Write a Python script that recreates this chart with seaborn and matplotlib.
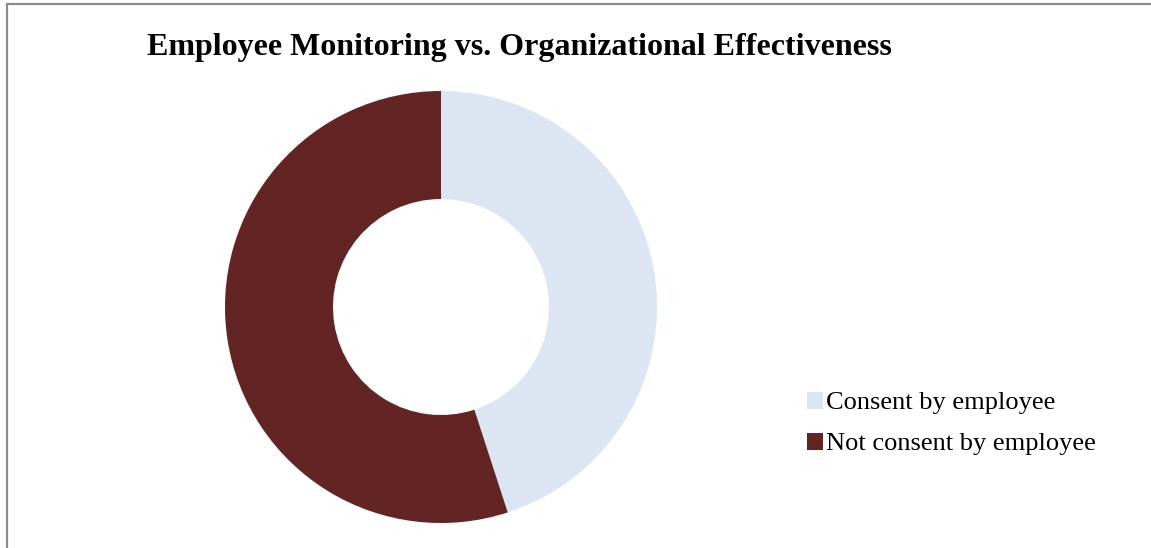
import matplotlib
matplotlib.use("Agg")
import matplotlib.pyplot as plt
import seaborn as sns
from matplotlib.lines import Line2D
from matplotlib.patches import Patch

sns.set_theme(style="white")
plt.rcParams["font.family"] = ["Liberation Serif", "DejaVu Serif"]

categories = ["Consent by employee", "Not consent by employee"]
shares = [45, 55]
colors = ["#DCE6F2", "#632523"]
title = "Employee Monitoring vs. Organizational Effectiveness"

W, H = 1151, 548
fig = plt.figure(figsize=(W / 100, H / 100), dpi=100)
fig.patch.set_facecolor("white")

# donut axes: centre (441, 307) px, outer radius 216 px
cx, cy, r = 441, 307, 216
ax = fig.add_axes([(cx - r) / W, (H - cy - r) / H, 2 * r / W, 2 * r / H])
wedges, _ = ax.pie(shares, colors=colors, startangle=90, counterclock=False,
                   radius=1.0, wedgeprops=dict(width=0.5, edgecolor="none"))
ax.set_xlim(-1, 1)
ax.set_ylim(-1, 1)
ax.set_aspect("equal")
ax.axis("off")

fig.text(147 / W, 1 - 47 / H, title, fontsize=23, fontweight="bold",
         ha="left", va="center", color="black")

handles = [Patch(facecolor=c, edgecolor="none") for c in colors]
leg = fig.legend(handles, categories, loc="upper left",
                 bbox_to_anchor=(796 / W, 1 - 381 / H), frameon=False,
                 fontsize=19, handlelength=0.62, handleheight=0.62,
                 handletextpad=0.12, labelspacing=0.69, borderaxespad=0,
                 labelcolor="black")

# chart frame (left and top edges)
fig.add_artist(Line2D([7.5 / W, 7.5 / W], [0, 1 - 3.5 / H], color="#8c8c8c", lw=1.6))
fig.add_artist(Line2D([7.5 / W, 1], [1 - 3.5 / H, 1 - 3.5 / H], color="#8c8c8c", lw=1.6))

fig.savefig("out.png", dpi=100, facecolor="white")
